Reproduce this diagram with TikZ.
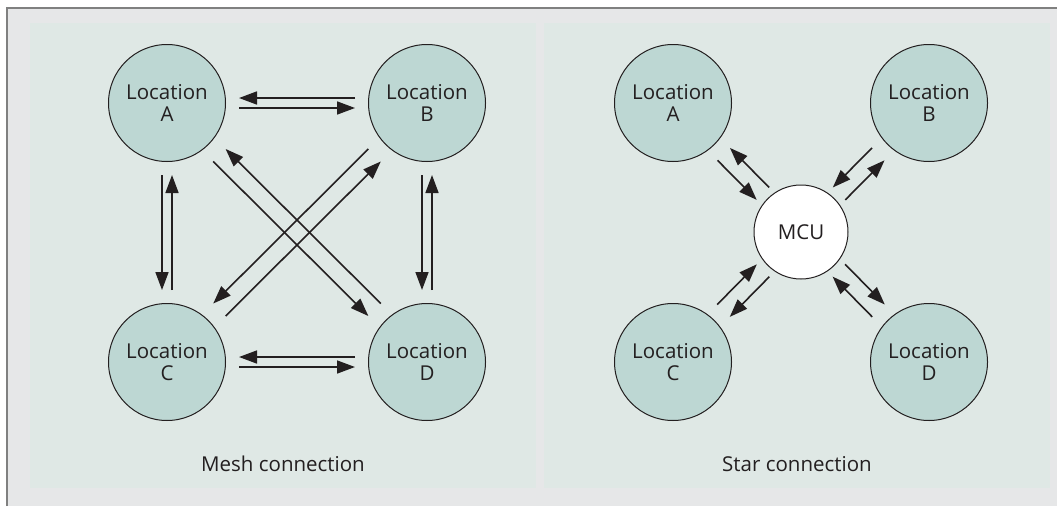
\documentclass[tikz,border=0pt]{standalone}
\usepackage{fontspec}
\setmainfont{Open Sans}
\usetikzlibrary{arrows.meta,calc}
\definecolor{bgout}{RGB}{230,231,232}
\definecolor{panel}{RGB}{223,232,229}
\definecolor{circ}{RGB}{189,215,211}
\definecolor{ink}{RGB}{35,31,32}
\definecolor{framec}{RGB}{128,128,128}
\tikzset{
 loc/.style={circle,draw=ink,line width=1pt,fill=circ,minimum size=117pt,inner sep=0pt,align=center,font=\fontsize{20.5}{22.5}\selectfont,text=ink},
 mcu/.style={circle,draw=ink,line width=1pt,fill=white,minimum size=94pt,inner sep=0pt,font=\fontsize{20.5}{22.5}\selectfont,text=ink},
 arr/.style={draw=ink,line width=1.6pt,-{Triangle[length=18pt,width=13pt]}},
 captxt/.style={font=\fontsize{20.5}{22.5}\selectfont,text=ink,anchor=base},
 panelbox/.style={fill=panel,draw=none}
}
% #1 P, #2 Q, #3 gap at P, #4 gap at Q, #5 offset (right-hand side positive)
\newcommand\twoway[5]{%
 \draw[arr] ($(#1)!#3!(#2)!#5!-90:(#2)$) -- ($(#2)!#4!(#1)!#5!90:(#1)$);
 \draw[arr] ($(#2)!#4!(#1)!#5!-90:(#1)$) -- ($(#1)!#3!(#2)!#5!90:(#2)$);
}
\begin{document}
\begin{tikzpicture}[x=1pt,y=-1pt]
\useasboundingbox (0,0) rectangle (1057,506);
\fill[bgout] (7,7.5) rectangle (1057,506);
\draw[framec,line width=2pt] (6.7,506) -- (6.7,7.5) -- (1057,7.5);
\fill[panelbox] (30,23) rectangle (536,488);
\fill[panelbox] (544,23) rectangle (1050,488);
% Mesh
\node[loc] (mA) at (167,103) {Location\\A};
\node[loc] (mB) at (427,103) {Location\\B};
\node[loc] (mC) at (167,362) {Location\\C};
\node[loc] (mD) at (427,362) {Location\\D};
\twoway{mA}{mB}{72pt}{72pt}{5pt}
\twoway{mC}{mD}{72pt}{72pt}{5pt}
\twoway{mA}{mC}{72pt}{72pt}{5pt}
\twoway{mB}{mD}{72pt}{72pt}{5pt}
\twoway{mA}{mD}{74pt}{74pt}{8.8pt}
\twoway{mB}{mC}{74pt}{74pt}{8.8pt}
\node[captxt] (mcap) at (283,471) {Mesh connection};
% Star
\node[loc] (sA) at (673,103) {Location\\A};
\node[loc] (sB) at (929,103) {Location\\B};
\node[loc] (sC) at (673,362) {Location\\C};
\node[loc] (sD) at (929,362) {Location\\D};
\node[mcu] (M) at (801,232) {MCU};
\twoway{sA}{M}{72pt}{54pt}{8.8pt}
\twoway{sB}{M}{72pt}{54pt}{8.8pt}
\twoway{sC}{M}{72pt}{54pt}{-8.8pt}
\twoway{sD}{M}{72pt}{54pt}{-8.8pt}
\node[captxt] (scap) at (797,471) {Star connection};
\end{tikzpicture}
\end{document}
